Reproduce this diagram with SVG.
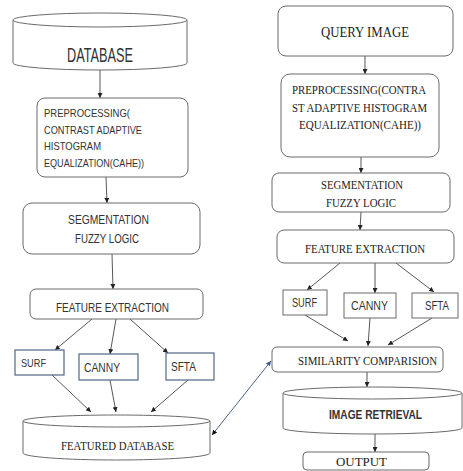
<svg xmlns="http://www.w3.org/2000/svg" width="463" height="471" viewBox="0 0 463 471">
<defs>
<style>
.box{fill:#fff;stroke:#6a6a6a;stroke-width:1}
.bbox{fill:#fff;stroke:#4f6785;stroke-width:1.2}
.cyl{fill:#fff;stroke:#6a6a6a;stroke-width:1}
.ln{stroke:#444;stroke-width:0.9;fill:none}
.bl{stroke:#4a6488;stroke-width:1;fill:none}
.s{font-family:"Liberation Sans",Arial,sans-serif;fill:#333}
.r{font-family:"Liberation Serif","Times New Roman",serif;fill:#222}
</style>
<marker id="ah" viewBox="0 0 6 6" refX="6" refY="3" markerWidth="5" markerHeight="5" orient="auto" markerUnits="userSpaceOnUse"><path d="M0,0 L6,3 L0,6 z" fill="#222"/></marker>
<marker id="ahb" viewBox="0 0 6 6" refX="6" refY="3" markerWidth="5" markerHeight="5" orient="auto" markerUnits="userSpaceOnUse"><path d="M0,0 L6,3 L0,6 z" fill="#3a5a90"/></marker>
<marker id="ahs" viewBox="0 0 6 6" refX="0" refY="3" markerWidth="5" markerHeight="5" orient="auto" markerUnits="userSpaceOnUse"><path d="M6,0 L0,3 L6,6 z" fill="#111"/></marker>
</defs>
<rect width="463" height="471" fill="#fff"/>

<g id="connectors">
<line class="ln" x1="100" y1="70" x2="100" y2="98" marker-end="url(#ah)"/>
<line class="ln" x1="106" y1="177" x2="107" y2="203" marker-end="url(#ah)"/>
<line class="ln" x1="112" y1="254" x2="113" y2="289" marker-end="url(#ah)"/>
<line class="ln" x1="92" y1="319" x2="55" y2="350" marker-end="url(#ah)"/>
<line class="ln" x1="116" y1="319" x2="110" y2="354" marker-end="url(#ah)"/>
<line class="ln" x1="130" y1="319" x2="168" y2="353" marker-end="url(#ah)"/>
<line class="ln" x1="52" y1="375" x2="91" y2="412" marker-end="url(#ah)"/>
<line class="ln" x1="110" y1="380" x2="116" y2="412" marker-end="url(#ah)"/>
<line class="ln" x1="188" y1="380" x2="151" y2="412" marker-end="url(#ah)"/>
<line class="bl" x1="212" y1="435" x2="271" y2="361" marker-start="url(#ahs)" marker-end="url(#ahb)"/>
<line class="ln" x1="365" y1="56" x2="365" y2="74" marker-end="url(#ah)"/>
<line class="ln" x1="361" y1="157" x2="361" y2="173" marker-end="url(#ah)"/>
<line class="ln" x1="361" y1="212" x2="360" y2="230" marker-end="url(#ah)"/>
<line class="ln" x1="340" y1="263" x2="307" y2="290" marker-end="url(#ah)"/>
<line class="ln" x1="375" y1="263" x2="375" y2="293" marker-end="url(#ah)"/>
<line class="ln" x1="396" y1="263" x2="434" y2="292" marker-end="url(#ah)"/>
<line class="ln" x1="305" y1="315" x2="348" y2="341" marker-end="url(#ah)"/>
<line class="ln" x1="370" y1="318" x2="368" y2="346" marker-end="url(#ah)"/>
<line class="ln" x1="432" y1="318" x2="388" y2="345" marker-end="url(#ah)"/>
<line class="ln" x1="367" y1="372" x2="367" y2="387" marker-end="url(#ah)"/>
<line class="ln" x1="375" y1="434" x2="375" y2="452" marker-end="url(#ah)"/>
</g>

<g id="database">
<path class="cyl" d="M13,20 L13,63 A87,7 0 0 0 187,63 L187,20"/>
<ellipse class="cyl" cx="100" cy="20" rx="87" ry="7"/>
<text class="s" x="100" y="62" font-size="21" text-anchor="middle" textLength="66" lengthAdjust="spacingAndGlyphs">DATABASE</text>
</g>

<g id="preproc-left">
<rect class="box" x="37" y="98" width="151" height="79" rx="8"/>
<text class="s" font-size="11.5"><tspan x="44" y="117" textLength="86" lengthAdjust="spacingAndGlyphs">PREPROCESSING(</tspan></text>
<text class="s" font-size="11.5"><tspan x="44" y="134" textLength="98" lengthAdjust="spacingAndGlyphs">CONTRAST  ADAPTIVE</tspan></text>
<text class="s" font-size="11.5"><tspan x="44" y="150" textLength="57" lengthAdjust="spacingAndGlyphs">HISTOGRAM</tspan></text>
<text class="s" font-size="11.5"><tspan x="44" y="167" textLength="100" lengthAdjust="spacingAndGlyphs">EQUALIZATION(CAHE))</tspan></text>
</g>

<g id="seg-left">
<rect class="box" x="23" y="203" width="177" height="51" rx="9"/>
<text class="s" x="68" y="224" font-size="13.5" textLength="81" lengthAdjust="spacingAndGlyphs">SEGMENTATION</text>
<text class="s" x="75" y="243" font-size="13.5" textLength="64" lengthAdjust="spacingAndGlyphs">FUZZY LOGIC</text>
</g>

<g id="fe-left">
<rect class="box" x="30" y="289" width="173" height="30" rx="6"/>
<text class="s" x="56" y="312" font-size="13" textLength="113" lengthAdjust="spacingAndGlyphs">FEATURE EXTRACTION</text>
</g>

<g id="surf-left">
<rect class="bbox" x="15" y="350" width="49" height="25"/>
<text class="s" x="21" y="367" font-size="11.5" textLength="25" lengthAdjust="spacingAndGlyphs">SURF</text>
</g>
<g id="canny-left">
<rect class="bbox" x="79" y="354" width="59" height="26"/>
<text class="s" x="84" y="372" font-size="12" textLength="36" lengthAdjust="spacingAndGlyphs">CANNY</text>
</g>
<g id="sfta-left">
<rect class="bbox" x="166" y="353" width="48" height="27"/>
<text class="s" x="171" y="371" font-size="12" textLength="25" lengthAdjust="spacingAndGlyphs">SFTA</text>
</g>

<g id="featured-db">
<path class="cyl" d="M23,421 L23,453 A93.5,7 0 0 0 210,453 L210,421"/>
<ellipse class="cyl" cx="116.5" cy="421" rx="93.5" ry="6"/>
<text class="r" x="61" y="450" font-size="12.5" textLength="113" lengthAdjust="spacingAndGlyphs">FEATURED DATABASE</text>
</g>

<g id="query">
<rect class="box" x="278" y="6" width="175" height="50" rx="8"/>
<text class="r" x="321" y="37" font-size="14" textLength="88" lengthAdjust="spacingAndGlyphs">QUERY  IMAGE</text>
</g>

<g id="preproc-right">
<rect class="box" x="281" y="74" width="158" height="83" rx="9"/>
<text class="r" x="292" y="94" font-size="13" textLength="134" lengthAdjust="spacingAndGlyphs">PREPROCESSING(CONTRA</text>
<text class="r" x="292" y="112" font-size="13" textLength="135" lengthAdjust="spacingAndGlyphs">ST ADAPTIVE  HISTOGRAM</text>
<text class="r" x="299" y="129" font-size="13" textLength="122" lengthAdjust="spacingAndGlyphs">EQUALIZATION(CAHE))</text>
</g>

<g id="seg-right">
<rect class="box" x="272" y="173" width="178" height="39" rx="7"/>
<text class="r" x="321" y="189" font-size="13" textLength="82" lengthAdjust="spacingAndGlyphs">SEGMENTATION</text>
<text class="r" x="326" y="207" font-size="13" textLength="70" lengthAdjust="spacingAndGlyphs">FUZZY LOGIC</text>
</g>

<g id="fe-right">
<rect class="box" x="277" y="230" width="177" height="33" rx="7"/>
<text class="r" x="305" y="253" font-size="13" textLength="120" lengthAdjust="spacingAndGlyphs">FEATURE  EXTRACTION</text>
</g>

<g id="surf-right">
<rect class="box" x="283" y="290" width="44" height="25"/>
<text class="s" x="292" y="307" font-size="12" textLength="25" lengthAdjust="spacingAndGlyphs">SURF</text>
</g>
<g id="canny-right">
<rect class="box" x="344" y="293" width="52" height="25"/>
<text class="s" x="351" y="310" font-size="12" textLength="37" lengthAdjust="spacingAndGlyphs">CANNY</text>
</g>
<g id="sfta-right">
<rect class="box" x="412" y="293" width="46" height="25"/>
<text class="s" x="425" y="310" font-size="12" textLength="24" lengthAdjust="spacingAndGlyphs">SFTA</text>
</g>

<g id="similarity">
<rect class="box" x="272" y="347" width="171" height="25" rx="5"/>
<text class="r" x="298" y="365" font-size="12.5" textLength="139" lengthAdjust="spacingAndGlyphs">SIMILARITY  COMPARISION</text>
</g>

<g id="image-retrieval">
<path class="cyl" d="M283,393 L283,428 A89.5,6 0 0 0 462,428 L462,393"/>
<ellipse class="cyl" cx="372.5" cy="393" rx="89.5" ry="6"/>
<text class="s" x="329" y="419" font-size="13" font-weight="bold" textLength="93" lengthAdjust="spacingAndGlyphs">IMAGE RETRIEVAL</text>
</g>

<g id="output">
<rect class="box" x="303" y="452" width="126" height="18" rx="4"/>
<text class="r" x="336" y="466" font-size="12.5" textLength="51" lengthAdjust="spacingAndGlyphs">OUTPUT</text>
</g>
</svg>
